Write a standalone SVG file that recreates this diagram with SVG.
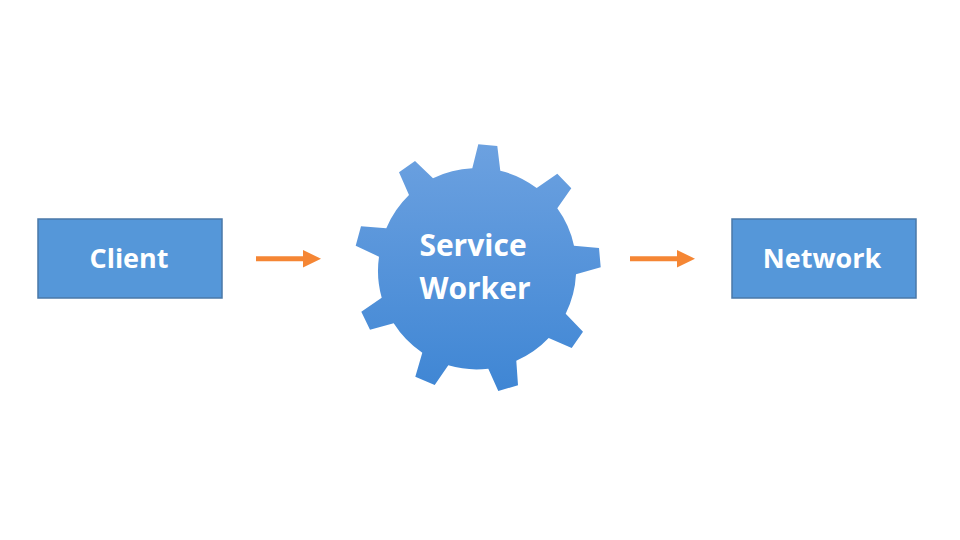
<svg xmlns="http://www.w3.org/2000/svg" width="960" height="540" viewBox="0 0 960 540">
<style>
.box{fill:#5597d9;stroke:#4a78a8;stroke-width:1.5}
.lbl{font-family:"Open Sans","Noto Sans",sans-serif;font-weight:700;font-size:27px;fill:#fff;text-anchor:middle}
.big{font-size:30px}
.shaft{stroke:#f58634;stroke-width:5;fill:none}
.head{fill:#f58634}
</style>
<defs>
<linearGradient id="g" x1="0" y1="0" x2="0" y2="1">
<stop offset="0" stop-color="#6ca1e0"/>
<stop offset="1" stop-color="#3f86d4"/>
</linearGradient>
</defs>
<rect width="960" height="540" fill="#fff"/>
<g id="client"><rect class="box" x="38" y="219" width="184" height="79"/><text class="lbl" x="129" y="268">Client</text></g>
<g id="service-worker">
<path fill="url(#g)" d="M472.3 168.3L478.3 144.3L497.3 146L500.3 170.700A99 99 0 0 1 536.7 188L557.3 173.7L571.3 188.3L557.3 208.3A99 99 0 0 1 574 245.7L599 248L600.7 267.3L576 274.3A99 99 0 0 1 565.7 313.7L583 331.7L571.7 348L548.7 338A99 99 0 0 1 516.3 360.7L518 385.3L498.3 391L488.3 368.7A99 99 0 0 1 448.3 365.3L434.7 385L415.3 376.7L422.3 352.7A99 99 0 0 1 393.7 323.3L370 329.7L361.3 311.7L381.7 297.700A99 99 0 0 1 379 256.7L355.7 245.7L361 226.3L386.3 228.3A99 99 0 0 1 409 195L399 172.3L415 161L433 178.3A99 99 0 0 1 472.3 168.3Z"/>
<text class="lbl big" x="473" y="256">Service</text>
<text class="lbl big" x="475" y="299">Worker</text>
</g>
<g id="network"><rect class="box" x="732" y="219" width="184" height="79"/><text class="lbl" x="822" y="268">Network</text></g>
<g id="connectors">
<line class="shaft" x1="256" y1="258.700" x2="304" y2="258.700"/><polygon class="head" points="303,250 321,258.700 303,267.500"/>
<line class="shaft" x1="630" y1="258.700" x2="678" y2="258.700"/><polygon class="head" points="677,250 695,258.700 677,267.500"/>
</g>
</svg>
